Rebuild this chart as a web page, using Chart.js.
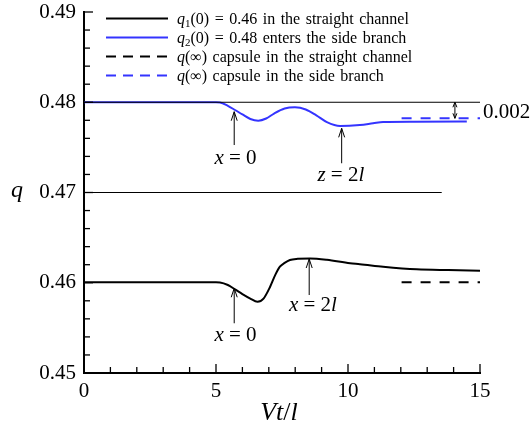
<!DOCTYPE html>
<html lang="en">
<head>
<meta charset="utf-8">
<title>q frente a Vt/l</title>
<script src="https://cdn.jsdelivr.net/npm/chart.js@4.4.1/dist/chart.umd.min.js"></script>
<style>
  html, body { margin: 0; padding: 0; background: #fff; }
  #contenedor { width: 532px; height: 434px; }
</style>
</head>
<body>
<div id="contenedor"><canvas id="grafico" width="532" height="434"></canvas></div>
<script>
// ============================================================================
// DATOS
// ============================================================================
const tiempoQ1 = [0, 2, 4, 5, 5.15, 5.45, 5.72, 6.0, 6.3, 6.57, 6.8, 7.05, 7.25, 7.42, 7.6, 7.8, 8.1, 8.56, 9.2, 10.08, 10.45, 11.33, 12.6, 13.8, 15];
const valoresQ1 = [0.46005, 0.46005, 0.46005, 0.46005, 0.46003, 0.45975, 0.45927, 0.45875, 0.45825, 0.4579, 0.45825, 0.45956, 0.4609, 0.46178, 0.4622, 0.46252, 0.46265, 0.4627, 0.46255, 0.46215, 0.46206, 0.46178, 0.46149, 0.4614, 0.46134];

const tiempoQ2 = [0, 2, 4, 5, 5.15, 5.45, 5.72, 6.0, 6.3, 6.6, 6.9, 7.2, 7.6, 7.99, 8.4, 8.8, 9.2, 9.7, 10.45, 10.95, 11.33, 12.5, 14.5];
const valoresQ2 = [0.48, 0.48, 0.48, 0.48, 0.47998, 0.4796, 0.47914, 0.47865, 0.47815, 0.47796, 0.4782, 0.47875, 0.4793, 0.47944, 0.4792, 0.47855, 0.4778, 0.47737, 0.47748, 0.47767, 0.47781, 0.47785, 0.47786];

// Valores asintóticos q(∞)
const tiempoLimite = [12.03, 15];
const valoresLimiteQ1 = [0.46005, 0.46005];
const valoresLimiteQ2 = [0.47822, 0.47822];

// Líneas finas de referencia
const tiempoRef48 = [0, 15];
const valoresRef48 = [0.48, 0.48];
const tiempoRef47 = [0, 13.55];
const valoresRef47 = [0.47, 0.47];

const ticksX = [0, 5, 10, 15];
const ticksY = [0.45, 0.46, 0.47, 0.48, 0.49];

const etiquetasLeyenda = [
  "q_1(0) = 0.46 in the straight channel",
  "q_2(0) = 0.48 enters the side branch",
  "q(\u221e) capsule in the straight channel",
  "q(\u221e) capsule in the side branch"
];

// ============================================================================
// ESTILOS Y ANOTACIONES
// ============================================================================
const SERIF = '"Liberation Serif", "DejaVu Serif", serif';
const AZUL = "#3434ff";

// flechas: x, desde (cola) y hasta (punta) en unidades de datos
const flechas = [
  { x: 5.69, desde: 0.47526, hasta: 0.47895 },
  { x: 9.76, desde: 0.47324, hasta: 0.47711 },
  { x: 5.69, desde: 0.45551, hasta: 0.45939 },
  { x: 8.53, desde: 0.45864, hasta: 0.46263 }
];

const textos = [
  { x: 5.74, y: 0.47316, partes: [["x", "i"], [" = 0", "n"]] },
  { x: 9.73, y: 0.47127, partes: [["z", "i"], [" = 2", "n"], ["l", "i"]] },
  { x: 5.74, y: 0.45355, partes: [["x", "i"], [" = 0", "n"]] },
  { x: 8.67, y: 0.45687, partes: [["x", "i"], [" = 2", "n"], ["l", "i"]] }
];

function puntos(xs, ys) {
  return xs.map((x, i) => ({ x, y: ys[i] }));
}

function fuente(estilo, tam) {
  if (estilo === "i") return `italic ${tam}px ${SERIF}`;
  if (estilo === "s") return `${Math.round(tam * 0.7)}px ${SERIF}`;
  return `${tam}px ${SERIF}`;
}

// Dibuja texto con partes en cursiva / subíndice
function textoMixto(ctx, partes, x, y, tam, alinear) {
  let ancho = 0;
  partes.forEach(([t, e]) => { ctx.font = fuente(e, tam); ancho += ctx.measureText(t).width; });
  let cx = alinear === "center" ? x - ancho / 2 : x;
  ctx.textAlign = "left";
  ctx.textBaseline = "alphabetic";
  partes.forEach(([t, e]) => {
    ctx.font = fuente(e, tam);
    ctx.fillText(t, cx, e === "s" ? y + tam * 0.22 : y);
    cx += ctx.measureText(t).width;
  });
}

function partesLeyenda(etiqueta) {
  const m = etiqueta.match(/^q(?:_(\d))?(.*)$/);
  const partes = [["q", "i"]];
  if (m[1]) partes.push([m[1], "s"]);
  partes.push([m[2], "n"]);
  return partes;
}

function linea(ctx, x1, y1, x2, y2) {
  ctx.beginPath();
  ctx.moveTo(x1, y1);
  ctx.lineTo(x2, y2);
  ctx.stroke();
}

function cabeza(ctx, x, y, dir) {
  ctx.beginPath();
  ctx.moveTo(x - 3, y + dir * 9);
  ctx.lineTo(x, y);
  ctx.lineTo(x + 3, y + dir * 9);
  ctx.stroke();
}

// ---------------------------------------------------------------------------
// Plugin: marcas interiores, flechas, textos y leyenda
// ---------------------------------------------------------------------------
const pluginDecoracion = {
  id: "decoracion",
  afterDraw(chart) {
    const { ctx, chartArea: area, scales: { x, y } } = chart;
    ctx.save();
    ctx.strokeStyle = "#000";
    ctx.fillStyle = "#000";

    // marcas hacia adentro
    ctx.lineWidth = 1.3;
    for (let i = 0; i <= 15; i++) {
      const px = x.getPixelForValue(i);
      linea(ctx, px, area.bottom, px, area.bottom - (i % 5 === 0 ? 9 : 6));
    }
    for (let i = 0; i <= 20; i++) {
      const py = y.getPixelForValue(0.45 + i * 0.002);
      linea(ctx, area.left, py, area.left + (i % 5 === 0 ? 9 : 6), py);
    }

    // flechas
    ctx.lineWidth = 1;
    flechas.forEach((f) => {
      const px = x.getPixelForValue(f.x);
      const p1 = y.getPixelForValue(f.desde);
      const p2 = y.getPixelForValue(f.hasta);
      linea(ctx, px, p1, px, p2);
      cabeza(ctx, px, p2, 1);
    });

    // doble flecha de 0.002
    const pxD = x.getPixelForValue(14.05);
    const pA = y.getPixelForValue(0.48);
    const pB = y.getPixelForValue(0.47822);
    linea(ctx, pxD, pA, pxD, pB);
    ctx.beginPath();
    ctx.moveTo(pxD - 2, pA + 5); ctx.lineTo(pxD, pA); ctx.lineTo(pxD + 2, pA + 5);
    ctx.moveTo(pxD - 2, pB - 5); ctx.lineTo(pxD, pB); ctx.lineTo(pxD + 2, pB - 5);
    ctx.stroke();

    textos.forEach((t) => {
      textoMixto(ctx, t.partes, x.getPixelForValue(t.x), y.getPixelForValue(t.y), 21, "center");
    });
    textoMixto(ctx, [["0.002", "n"]], x.getPixelForValue(15.11), y.getPixelForValue(0.4782), 21, "left");

    // títulos de ejes
    textoMixto(ctx, [["q", "i"]], 17, 197, 24, "center");
    textoMixto(ctx, [["Vt", "i"], ["/", "n"], ["l", "i"]], area.left + (area.right - area.left) / 2 - 3, 420, 26, "center");

    // leyenda
    const series = chart.data.datasets.filter((d) => d.leyenda !== undefined);
    ctx.wordSpacing = "1.5px";
    series.forEach((d) => {
      const fila = area.top + 6.5 + d.leyenda * 19;
      ctx.strokeStyle = d.borderColor;
      ctx.lineWidth = 2;
      ctx.setLineDash(d.borderDash ? [10, 7] : []);
      linea(ctx, area.left + 22, fila, area.left + 84, fila);
      ctx.setLineDash([]);
      ctx.fillStyle = "#000";
      textoMixto(ctx, partesLeyenda(d.label), area.left + 93, fila + 5, 16, "left");
    });

    ctx.restore();
  }
};

// ============================================================================
// GRÁFICO
// ============================================================================
const ejeComun = {
  type: "linear",
  grid: { display: false, drawTicks: false },
  border: { display: true, color: "#000", width: 2 },
};

new Chart(document.getElementById("grafico").getContext("2d"), {
  type: "line",
  data: {
    datasets: [
      { label: "ref 0.48", data: puntos(tiempoRef48, valoresRef48), borderColor: "#000", borderWidth: 1 },
      { label: "ref 0.47", data: puntos(tiempoRef47, valoresRef47), borderColor: "#000", borderWidth: 1 },
      { label: etiquetasLeyenda[2], leyenda: 2, data: puntos(tiempoLimite, valoresLimiteQ1), borderColor: "#000", borderWidth: 2, borderDash: [10, 9] },
      { label: etiquetasLeyenda[3], leyenda: 3, data: puntos(tiempoLimite, valoresLimiteQ2), borderColor: AZUL, borderWidth: 2, borderDash: [10, 9] },
      { label: etiquetasLeyenda[0], leyenda: 0, data: puntos(tiempoQ1, valoresQ1), borderColor: "#000", borderWidth: 2, cubicInterpolationMode: "monotone" },
      { label: etiquetasLeyenda[1], leyenda: 1, data: puntos(tiempoQ2, valoresQ2), borderColor: AZUL, borderWidth: 2, cubicInterpolationMode: "monotone" }
    ]
  },
  options: {
    responsive: false,
    animation: false,
    devicePixelRatio: 1,
    layout: { padding: { top: 12, right: 52, left: 0, bottom: 0 } },
    elements: { point: { radius: 0 } },
    plugins: { legend: { display: false }, tooltip: { enabled: false } },
    scales: {
      x: {
        ...ejeComun,
        min: 0,
        max: 15,
        afterBuildTicks: (s) => { s.ticks = ticksX.map((v) => ({ value: v })); },
        afterFit: (s) => { s.height = 61; s.paddingLeft = 0; s.paddingRight = 0; },
        ticks: { color: "#000", padding: 6, maxRotation: 0, font: { family: SERIF, size: 21 }, callback: (v) => String(v) }
      },
      y: {
        ...ejeComun,
        min: 0.45,
        max: 0.49,
        afterBuildTicks: (s) => { s.ticks = ticksY.map((v) => ({ value: v })); },
        afterFit: (s) => { s.width = 84; s.paddingTop = 0; s.paddingBottom = 0; },
        ticks: { color: "#000", padding: 8, font: { family: SERIF, size: 21 }, callback: (v) => v.toFixed(2) }
      }
    }
  },
  plugins: [pluginDecoracion]
});
</script>
</body>
</html>
